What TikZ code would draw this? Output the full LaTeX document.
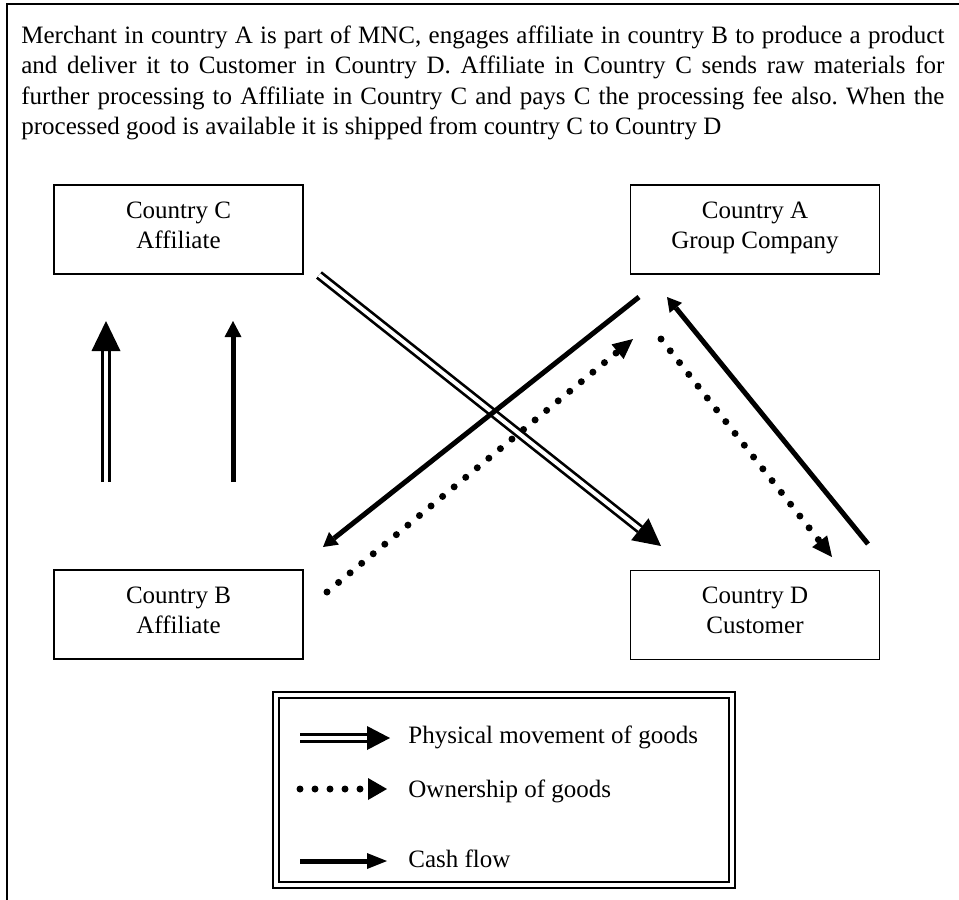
\documentclass[tikz,border=0pt]{standalone}
\usepackage{fontspec}
\setmainfont{Liberation Serif}
\usetikzlibrary{arrows.meta}
\frenchspacing
\tikzset{
  box/.style={draw, line width=0.8pt, minimum width=124.5pt, minimum height=44.5pt,
    align=center, inner sep=0pt, font=\fontsize{12.5}{15}\selectfont,
    execute at begin node=\strut, execute at end node=\strut},
  goods/.style={double, line width=1.35pt, double distance=2pt, -{Triangle[line width=0pt,#1]}},
  owner/.style={line width=3.5pt, line cap=round, dash pattern=on 0pt off 7.5pt, -{Triangle[line width=0pt,#1]}},
  cash/.style={line width=2.5pt, -{Triangle[line width=0pt,#1]}},
  legtext/.style={anchor=base west, inner sep=0pt, font=\fontsize{12.5}{14.5}\selectfont},
}
\begin{document}
\begin{tikzpicture}[x=0.5pt, y=-0.5pt]
    \useasboundingbox (0,0) rectangle (959,900);
    % frame
    \draw[line width=1.1pt] (7,900) -- (7,4) -- (959,4);
    % story
    \node[anchor=base west, inner sep=0pt, text width=461.5pt, align=justify,
        font=\fontsize{12.5}{15.25}\selectfont] (story) at (21,43)
        {Merchant in country A is part of MNC, engages affiliate in country B to produce a product\linebreak
         and deliver it to Customer in Country D. Affiliate in Country C sends raw materials for\linebreak
         further processing to Affiliate in Country C and pays C the processing fee also. When the\linebreak
         processed good is available it is shipped from country C to Country D};
    % countries
    \node[box] (countryC) at (178.5,229.5) {Country C\\Affiliate};
    \node[box] (countryA) at (755,229.5) {Country A\\Group Company};
    \node[box] (countryB) at (178.5,614.5) {Country B\\Affiliate};
    \node[box] (countryD) at (755,615) {Country D\\Customer};
    % arrow ends
    \coordinate (gB) at (106,482);   \coordinate (gC) at (106,321);
    \coordinate (cB) at (233,482);   \coordinate (cC) at (233,321);
    \coordinate (gC2) at (319,275);  \coordinate (gD) at (661,546);
    \coordinate (cA) at (639,297);   \coordinate (cB2) at (323,547);
    \coordinate (oB) at (327,592);   \coordinate (oA) at (633,339);
    \coordinate (oA2) at (661,339);  \coordinate (oD) at (832,557);
    \coordinate (cD) at (868,544);   \coordinate (cA2) at (667,297);
    % goods
    \draw[goods={length=15pt,width=14.5pt}] (gB) -- (gC);
    \draw[goods={length=13.5pt,width=14pt}] (gC2) -- (gD);
    % ownership
    \draw[owner={length=10pt,width=9.5pt}] (oB) -- (oA);
    \draw[owner={length=10pt,width=9.5pt}] (oA2) -- (oD);
    % cash
    \draw[cash={length=8pt,width=8.5pt}] (cB) -- (cC);
    \draw[cash={length=7pt,width=8pt}] (cA) -- (cB2);
    \draw[cash={length=7pt,width=8pt}] (cD) -- (cA2);
    % legend
    \node[draw, double, line width=0.9pt, double distance=2.2pt, minimum width=228pt,
        minimum height=95pt] (legend) at (504,790) {};
    \coordinate (lg1) at (300,738);  \coordinate (lg2) at (390,738);
    \coordinate (lo1) at (300,789);  \coordinate (lo2) at (387,789);
    \coordinate (lc1) at (300,861);  \coordinate (lc2) at (387,861);
    \draw[goods={length=11.5pt,width=12pt}] (lg1) -- (lg2);
    \draw[owner={length=9.5pt,width=11pt}] (lo1) -- (lo2);
    \draw[cash={length=10pt,width=8pt}] (lc1) -- (lc2);
    \node[legtext] (physical) at (408,743) {Physical movement of goods};
    \node[legtext] (ownership) at (408,797) {Ownership of goods};
    \node[legtext] (cashflow) at (408,867) {Cash flow};
\end{tikzpicture}
\end{document}
